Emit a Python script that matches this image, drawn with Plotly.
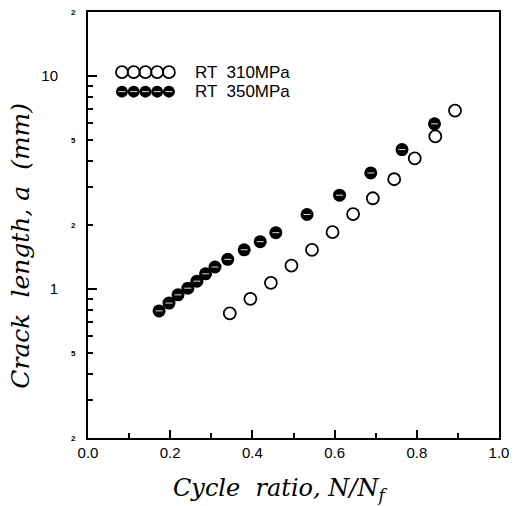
import math
import plotly.graph_objects as go

# ---- data ----
ratio_310 = [0.345, 0.395, 0.445, 0.495, 0.545, 0.595, 0.645, 0.693, 0.745, 0.795, 0.845, 0.893]
crack_310 = [0.77, 0.90, 1.07, 1.29, 1.53, 1.85, 2.25, 2.67, 3.28, 4.11, 5.21, 6.89]

ratio_350 = [0.173, 0.197, 0.219, 0.243, 0.265, 0.286, 0.309, 0.340, 0.380, 0.419,
             0.457, 0.533, 0.612, 0.688, 0.764, 0.843]
crack_350 = [0.79, 0.86, 0.94, 1.01, 1.09, 1.18, 1.27, 1.38, 1.53, 1.67,
             1.84, 2.24, 2.76, 3.51, 4.52, 5.97]

x_ticks = [0.0, 0.2, 0.4, 0.6, 0.8, 1.0]
x_ticklabels = ["0.0", "0.2", "0.4", "0.6", "0.8", "1.0"]
x_minor = [0.1, 0.3, 0.5, 0.7, 0.9]
y_major = [1, 10]
y_major_labels = ["1", "10"]
y_minor = [0.3, 0.4, 0.5, 0.6, 0.7, 0.8, 0.9, 2, 3, 4, 5, 6, 7, 8, 9]
y_small_vals = [0.2, 0.5, 2, 5, 20]
y_small_labels = ["2", "5", "2", "5", "2"]
legend_names = ["RT  310MPa", "RT  350MPa"]

Y_LO, Y_HI = math.log10(0.2), math.log10(20)

fig = go.Figure()

fig.add_trace(go.Scatter(
    x=ratio_310, y=crack_310, mode="markers",
    marker=dict(symbol="circle-open", size=12, color="black", line=dict(width=1.8)),
    showlegend=False))
fig.add_trace(go.Scatter(
    x=ratio_350, y=crack_350, mode="markers",
    marker=dict(symbol="circle", size=13, color="black", line=dict(width=0)),
    showlegend=False))
fig.add_trace(go.Scatter(
    x=ratio_350, y=crack_350, mode="markers",
    marker=dict(symbol="line-ew", size=5, color="#dddddd", line=dict(width=1, color="#dddddd")),
    showlegend=False))

# legend (drawn on an overlay axis in pixel-like units)
leg_x = [122.7, 134.7, 146.7, 158.7, 170.7]
fig.add_trace(go.Scatter(
    x=leg_x, y=[70.5] * 5, mode="markers", xaxis="x2", yaxis="y2",
    marker=dict(symbol="circle-open", size=12, color="black", line=dict(width=1.8)),
    showlegend=False, hoverinfo="skip"))
fig.add_trace(go.Scatter(
    x=leg_x, y=[90] * 5, mode="markers", xaxis="x2", yaxis="y2",
    marker=dict(symbol="circle", size=12, color="black", line=dict(width=0)),
    showlegend=False, hoverinfo="skip"))
fig.add_trace(go.Scatter(
    x=leg_x, y=[90] * 5, mode="markers", xaxis="x2", yaxis="y2",
    marker=dict(symbol="line-ew", size=5, color="#dddddd", line=dict(width=1, color="#dddddd")),
    showlegend=False, hoverinfo="skip"))
for name, yy in zip(legend_names, [70.5, 90]):
    fig.add_annotation(x=195, y=yy, xref="x2", yref="y2", text=name, showarrow=False,
                       xanchor="left", yanchor="middle",
                       font=dict(family="Liberation Sans", size=17, color="black"))

for v, t in zip(y_small_vals, y_small_labels):
    fig.add_annotation(x=-0.025, y=(math.log10(v) - Y_LO) / (Y_HI - Y_LO),
                       xref="paper", yref="paper",
                       text="<b>" + t + "</b>", showarrow=False, xanchor="right",
                       yanchor="middle",
                       font=dict(family="Liberation Sans", size=8, color="black"))

axis_font = dict(family="Liberation Sans", size=15, color="black")
title_font = dict(family="DejaVu Serif", size=25, color="black", style="italic")

# axis titles placed as annotations
fig.add_annotation(x=-0.165, y=0.452, xref="paper", yref="paper",
                   text="Crack  length, a  (mm)", textangle=-90, showarrow=False,
                   xanchor="center", yanchor="middle", font=title_font)
fig.add_annotation(x=0.468, y=-0.122, xref="paper", yref="paper",
                   text="Cycle  ratio, N/N<sub>f</sub>", showarrow=False,
                   xanchor="center", yanchor="middle",
                   font=dict(family="DejaVu Serif", size=24, color="black", style="italic"))

fig.update_layout(
    width=519, height=506,
    margin=dict(l=88, r=11, t=10, b=68),
    paper_bgcolor="white", plot_bgcolor="white",
    xaxis=dict(
        range=[0, 1], tickvals=x_ticks, ticktext=x_ticklabels,
        ticks="inside", ticklen=8, tickwidth=1.5, tickcolor="black",
        minor=dict(tickvals=x_minor, ticks="inside", ticklen=5, tickwidth=1.5, tickcolor="black"),
        showline=True, linecolor="black", linewidth=2, mirror=True,
        showgrid=False, zeroline=False, tickfont=axis_font,
    ),
    yaxis=dict(
        type="log", range=[Y_LO, Y_HI],
        tickvals=y_major, ticktext=y_major_labels,
        ticks="inside", ticklen=9, tickwidth=1.5, tickcolor="black",
        minor=dict(tickvals=y_minor, ticks="inside", ticklen=5, tickwidth=1.5, tickcolor="black"),
        showline=True, linecolor="black", linewidth=2, mirror=True,
        showgrid=False, zeroline=False, tickfont=axis_font,
        ticklabelstandoff=25,
    ),
    xaxis2=dict(range=[88, 508], overlaying="x", visible=False, fixedrange=True),
    yaxis2=dict(range=[438, 10], overlaying="y", visible=False, fixedrange=True),
)

fig.write_html("out.html")
